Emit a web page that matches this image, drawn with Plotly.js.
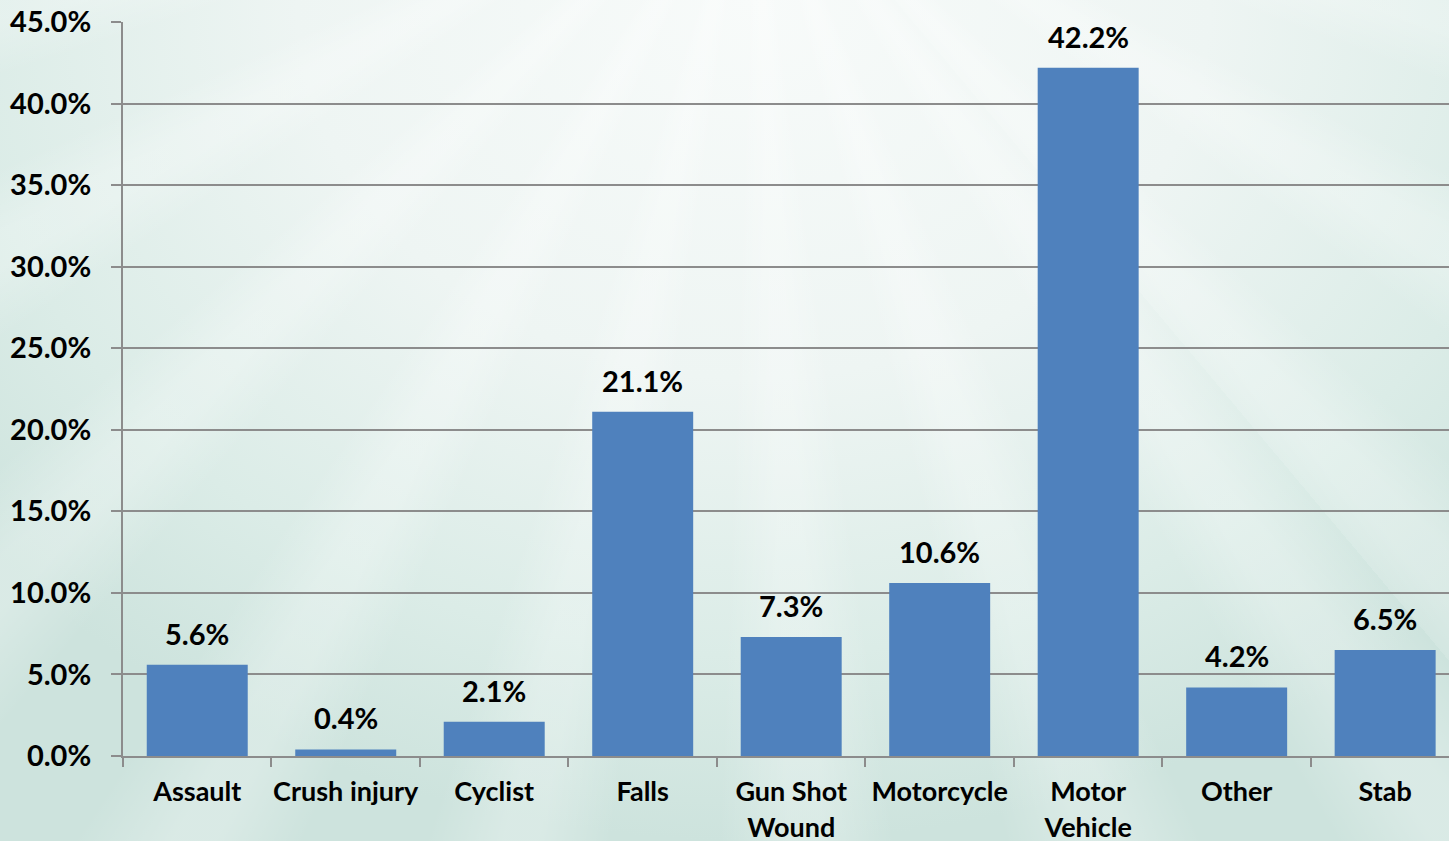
<!DOCTYPE html>
<html>
<head>
<meta charset="utf-8">
<script src="https://cdn.plot.ly/plotly-3.0.1.min.js"></script>
<style>
html,body{margin:0;padding:0;width:1449px;height:841px;overflow:hidden;}
body{
  background:
    repeating-conic-gradient(from 140deg at 52% -20%, rgba(255,255,255,0) 0deg, rgba(255,255,255,0.25) 4deg, rgba(255,255,255,0.25) 6deg, rgba(255,255,255,0) 10deg, rgba(255,255,255,0) 16deg),
    radial-gradient(ellipse 70% 100% at 52% 0%, #f8fbfa 0%, #eef5f3 45%, #dbece7 78%, #cde3dd 100%);
}
#chart{width:1449px;height:841px;}
</style>
</head>
<body>
<div id="chart"></div>
<script>
var categories = ["Assault", "Crush injury", "Cyclist", "Falls", "Gun Shot<br>Wound", "Motorcycle", "Motor<br>Vehicle", "Other", "Stab"];
var values = [5.6, 0.4, 2.1, 21.1, 7.3, 10.6, 42.2, 4.2, 6.5];
var labels = ["5.6%", "0.4%", "2.1%", "21.1%", "7.3%", "10.6%", "42.2%", "4.2%", "6.5%"];
var yTicks = [0, 5, 10, 15, 20, 25, 30, 35, 40, 45];
var yTickText = ["0.0%", "5.0%", "10.0%", "15.0%", "20.0%", "25.0%", "30.0%", "35.0%", "40.0%", "45.0%"];

var FONT = "Lato, 'Open Sans', sans-serif";
var TXT = {family: FONT, size: 29, color: "#000000", weight: "bold"};
var XTXT = {family: FONT, size: 27, color: "#000000", weight: "bold"};

var trace = {
  type: "bar",
  x: categories,
  y: values,
  marker: {color: "#4F81BD"},
  hoverinfo: "none"
};

var annotations = categories.map(function (c, i) {
  return {
    x: c, y: values[i], xref: "x", yref: "y",
    text: labels[i], showarrow: false,
    xanchor: "center", yanchor: "bottom", yshift: 12,
    font: TXT
  };
});

var layout = {
  width: 1449,
  height: 841,
  margin: {l: 123, r: 0, t: 22, b: 85},
  paper_bgcolor: "rgba(0,0,0,0)",
  plot_bgcolor: "rgba(0,0,0,0)",
  bargap: 0.32,
  showlegend: false,
  font: TXT,
  annotations: annotations,
  xaxis: {
    type: "category",
    range: [-0.5, 8.43],
    showline: true,
    linecolor: "#8c8c8c",
    linewidth: 2,
    ticks: "outside",
    tickson: "boundaries",
    ticklen: 9,
    tickwidth: 2,
    tickcolor: "#8c8c8c",
    showgrid: false,
    tickangle: 0,
    tickfont: XTXT,
    ticklabelstandoff: 11,
    fixedrange: true
  },
  yaxis: {
    range: [0, 45],
    tickvals: yTicks,
    ticktext: yTickText,
    showline: true,
    linecolor: "#8c8c8c",
    linewidth: 2,
    ticks: "outside",
    ticklen: 10,
    tickwidth: 2,
    tickcolor: "#8c8c8c",
    showgrid: true,
    gridcolor: "#8c8c8c",
    gridwidth: 2,
    zeroline: false,
    tickfont: TXT,
    ticklabelstandoff: 14,
    fixedrange: true
  }
};

Plotly.newPlot("chart", [trace], layout, {displayModeBar: false, staticPlot: true});
</script>
</body>
</html>
